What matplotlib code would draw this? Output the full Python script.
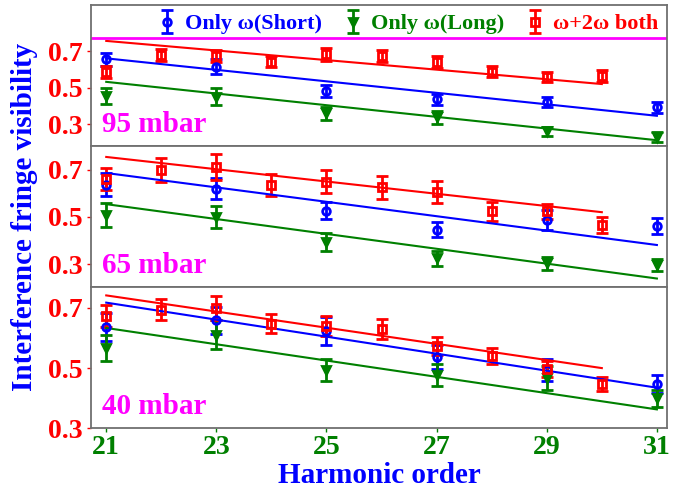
import matplotlib.pyplot as plt

# harmonic orders
harm_odd = [21, 23, 25, 27, 29, 31]
harm_all = [21, 22, 23, 24, 25, 26, 27, 28, 29, 30]
fit_x_odd = [21, 31]
fit_x_all = [21, 30]

# 95 mbar
short_95 = [0.655, 0.614, 0.482, 0.438, 0.423, 0.393]
short_95_err = [0.036, 0.040, 0.032, 0.030, 0.028, 0.030]
long_95 = [0.456, 0.451, 0.360, 0.338, 0.263, 0.232]
long_95_err = [0.043, 0.045, 0.036, 0.033, 0.024, 0.025]
both_95 = [0.587, 0.678, 0.673, 0.642, 0.682, 0.673, 0.640, 0.587, 0.560, 0.564]
both_95_err = [0.033, 0.034, 0.033, 0.031, 0.036, 0.034, 0.033, 0.029, 0.027, 0.032]
fit_short_95 = [0.660, 0.347]
fit_long_95 = [0.532, 0.214]
fit_both_95 = [0.755, 0.520]

# 65 mbar
short_65 = [0.636, 0.619, 0.527, 0.445, 0.487, 0.462]
short_65_err = [0.048, 0.044, 0.035, 0.032, 0.041, 0.033]
long_65 = [0.509, 0.499, 0.395, 0.324, 0.303, 0.296]
long_65_err = [0.050, 0.048, 0.038, 0.032, 0.027, 0.027]
both_65 = [0.660, 0.700, 0.710, 0.636, 0.650, 0.625, 0.604, 0.523, 0.523, 0.466]
both_65_err = [0.046, 0.051, 0.055, 0.046, 0.048, 0.048, 0.047, 0.040, 0.032, 0.035]
fit_short_65 = [0.686, 0.381]
fit_long_65 = [0.554, 0.239]
fit_both_65 = [0.754, 0.520]

# 40 mbar
short_40 = [0.637, 0.658, 0.622, 0.538, 0.494, 0.448]
short_40_err = [0.047, 0.046, 0.047, 0.040, 0.036, 0.030]
long_40 = [0.567, 0.611, 0.494, 0.478, 0.467, 0.400]
long_40_err = [0.043, 0.047, 0.036, 0.037, 0.039, 0.028]
both_40 = [0.672, 0.694, 0.700, 0.647, 0.639, 0.630, 0.574, 0.539, 0.498, 0.447]
both_40_err = [0.036, 0.034, 0.040, 0.032, 0.033, 0.033, 0.030, 0.026, 0.026, 0.022]
fit_short_40 = [0.717, 0.435]
fit_long_40 = [0.633, 0.363]
fit_both_40 = [0.741, 0.500]

panels = [
    ("95 mbar", short_95, short_95_err, long_95, long_95_err, both_95, both_95_err,
     fit_short_95, fit_long_95, fit_both_95, (0.182, 0.951)),
    ("65 mbar", short_65, short_65_err, long_65, long_65_err, both_65, both_65_err,
     fit_short_65, fit_long_65, fit_both_65, (0.202, 0.800)),
    ("40 mbar", short_40, short_40_err, long_40, long_40_err, both_40, both_40_err,
     fit_short_40, fit_long_40, fit_both_40, (0.300, 0.768)),
]

plt.rcParams["font.family"] = ["Liberation Serif", "DejaVu Serif"]
plt.rcParams["font.weight"] = "bold"

fig, axes = plt.subplots(3, 1, sharex=True, figsize=(6.88, 4.93), dpi=100,
                         gridspec_kw={"hspace": 0})
fig.subplots_adjust(left=0.132, right=0.970, bottom=0.131, top=0.990)

eb_kw = dict(linestyle="none", capsize=4, capthick=2, elinewidth=2, markersize=5.5,
             markeredgewidth=2)

for ax, (label, s, se, l, le, b, be, fs, fl, fb, ylim) in zip(axes, panels):
    h1 = ax.errorbar(harm_odd, s, yerr=se, fmt="o", color="blue", mfc="none",
                     label="Only \u03c9(Short)", **eb_kw)
    h2 = ax.errorbar(harm_odd, l, yerr=le, fmt="v", color="green",
                     label="Only \u03c9(Long)", **eb_kw)
    h3 = ax.errorbar(harm_all, b, yerr=be, fmt="s", color="red", mfc="none",
                     label="\u03c9+2\u03c9 both", **eb_kw)
    ax.plot(fit_x_odd, fs, color="blue", lw=1.5)
    ax.plot(fit_x_odd, fl, color="green", lw=1.5)
    ax.plot(fit_x_all, fb, color="red", lw=1.5)

    ax.set_ylim(*ylim)
    ax.set_yticks([0.3, 0.5, 0.7])
    ax.set_yticklabels(["0.3", "0.5", "0.7"])
    ax.tick_params(axis="y", colors="red", labelsize=20, length=3, width=1, pad=3)
    ax.tick_params(axis="x", colors="green", labelsize=20, length=3, width=1, pad=2)
    for sp in ax.spines.values():
        sp.set_color("#707070")
        sp.set_linewidth(1.3)
    ax.text(0.02, 0.06, label, transform=ax.transAxes, color="magenta",
            fontsize=21, fontweight="bold", ha="left", va="bottom")

axes[0].axhline(0.771, color="magenta", lw=2)
axes[0].legend(handles=[h1, h2, h3], loc="upper right", ncol=3, frameon=False,
               handlelength=0.8, handletextpad=0.4, columnspacing=1.0,
               borderaxespad=0.0, labelcolor="linecolor",
               prop={"weight": "bold", "size": 16})

axes[2].set_xlim(20.72, 31.19)
axes[2].set_xticks(harm_odd)
axes[2].set_xlabel("Harmonic order", color="blue", fontsize=21, fontweight="bold",
                   labelpad=1)
fig.text(0.036, 0.56, "Interference fringe visibility", color="blue", fontsize=21,
         fontweight="bold", rotation=90, ha="center", va="center")

fig.savefig("out.png", dpi=100)
